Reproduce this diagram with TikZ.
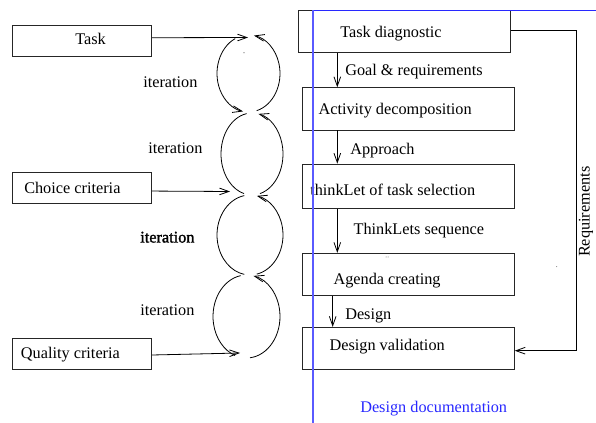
\documentclass[tikz,border=0pt]{standalone}
\usepackage{fontspec}
\setmainfont{Liberation Serif}
\newfontfamily\fakeboldfont[FakeBold=1.6]{Liberation Serif}
\usetikzlibrary{arrows.meta,calc}
\definecolor{framblue}{RGB}{40,40,255}
\definecolor{vblue}{RGB}{90,90,255}
\begin{document}
\begin{tikzpicture}[x=0.75pt,y=-0.75pt,
  font=\fontsize{12.2}{14}\selectfont,
  box/.style={draw=black!85,line width=0.6pt,inner sep=0pt},
  lbl/.style={inner sep=0pt,anchor=base west},
  arr/.style={line width=0.6pt,-{Straight Barb[length=7pt,width=5pt]}},
  loopline/.style={line width=0.6pt},
  looparr/.style={line width=0.6pt,-{Straight Barb[length=7pt,width=5pt]}}]
\useasboundingbox (0,0) rectangle (596,423);

% left boxes
\node[box,minimum width=104.25pt,minimum height=23pt] (task) at (82.2,40.8) {};
\node[box,minimum width=104.25pt,minimum height=23pt] (choice) at (82.2,188) {};
\node[box,minimum width=104.25pt,minimum height=23pt] (quality) at (82.2,354.2) {};
\node[lbl] (tasktxt) at (75,45) {Task};
\node[lbl] (choicetxt) at (24,193.3) {Choice criteria};
\node[lbl] (qualitytxt) at (20.7,358.5) {Quality criteria};

% iteration labels
\node[lbl] (it1) at (143,87.5) {iteration};
\node[lbl] (it2) at (148,153.5) {iteration};
\node[lbl] (it3) at (140,242.5) {\fakeboldfont iteration};
\node[lbl] (it4) at (140,316) {iteration};

% loop centres
\coordinate (L1) at (248.5,73.5);
\coordinate (L2) at (252,154);
\coordinate (L3) at (250,235);
\coordinate (L4) at (246.5,316.5);

\draw[looparr] ($(L1)+(-115:31.5 and 38.5)$) arc[start angle=-115,end angle=-260,x radius=31.5,y radius=38.5];
\draw[looparr] ($(L1)+(75:31.5 and 38.5)$) arc[start angle=75,end angle=-80,x radius=31.5,y radius=38.5];
\draw[loopline] ($(L2)+(-100:31 and 41)$) arc[start angle=-100,end angle=-255,x radius=31,y radius=41];
\draw[looparr] ($(L2)+(75:31 and 41)$) arc[start angle=75,end angle=-78,x radius=31,y radius=41];
\draw[loopline] ($(L3)+(-100:33 and 40)$) arc[start angle=-100,end angle=-260,x radius=33,y radius=40];
\draw[looparr] ($(L3)+(78:33 and 40)$) arc[start angle=78,end angle=-78,x radius=33,y radius=40];
\draw[loopline] ($(L4)+(-100:33.5 and 41.5)$) arc[start angle=-100,end angle=-250,x radius=33.5,y radius=41.5];
\draw[looparr] ($(L4)+(84:33.5 and 41.5)$) arc[start angle=84,end angle=-78,x radius=33.5,y radius=41.5];

% input arrows
\coordinate (tin) at (248,37.5);
\coordinate (cin) at (230,191.5);
\coordinate (qin) at (240,353);
\draw[arr] ([yshift=2.3pt]task.east) -- (tin);
\draw[arr] ([yshift=-2.3pt]choice.east) -- (cin);
\draw[arr] ([yshift=-0.6pt]quality.east) -- (qin);

% right boxes
\node[box,minimum width=159.3pt,minimum height=31.5pt] (td) at (404.5,31.7) {};
\node[box,minimum width=159pt,minimum height=31.7pt] (ad) at (408.3,108.8) {};
\node[box,minimum width=159pt,minimum height=33.2pt] (tl) at (408.3,186.2) {};
\node[box,minimum width=159pt,minimum height=31.8pt] (ag) at (408.3,274.5) {};
\node[box,minimum width=159pt,minimum height=31.5pt] (dv) at (408.3,348.3) {};
\node[lbl] (tdtxt) at (340,37.7) {Task diagnostic};
\node[lbl] (adtxt) at (318.3,115) {Activity decomposition};
\node[lbl] (tltxt) at (310,196) {thinkLet of task selection};
\node[lbl] (agtxt) at (333.3,285) {Agenda creating};
\node[lbl] (dvtxt) at (329.3,351) {Design validation};

% vertical flow
\coordinate (colA) at (337.3,0);
\coordinate (colB) at (332.7,0);
\draw[arr] (td.south -| colA) -- (ad.north -| colA);
\draw[arr] (ad.south -| colA) -- (tl.north -| colA);
\draw[arr] (tl.south -| colA) -- (ag.north -| colA);
\draw[arr] (ag.south -| colB) -- (dv.north -| colB);
\node[lbl] (goal) at (345,76) {Goal \& requirements};
\node[lbl] (appr) at (350,154.5) {Approach};
\node[lbl] (seq) at (353.3,234.3) {ThinkLets sequence};
\node[lbl] (des) at (345,320) {Design};

% requirements feedback
\coordinate (reqx) at (576.7,200);
\draw[arr] ([yshift=1.2pt]td.east) -| (reqx) |- ([yshift=-1.8pt]dv.east);
\node[inner sep=0pt,anchor=base,rotate=90] (req) at (589.5,211.7) {Requirements};

% blue frame
\fill[framblue] (312,10) rectangle (596,11.5);
\fill[vblue] (312,10) rectangle (314.2,423);
\node[lbl,text=framblue] (doc) at (360,412.7) {Design documentation};

% stray dots
\fill[black!60] (244,52.7) circle[radius=0.6];
\fill[black!60] (386,257) circle[radius=0.5];
\fill[black!60] (388,257) circle[radius=0.5];
\fill[black!60] (556.7,266.7) circle[radius=0.5];
\end{tikzpicture}
\end{document}
